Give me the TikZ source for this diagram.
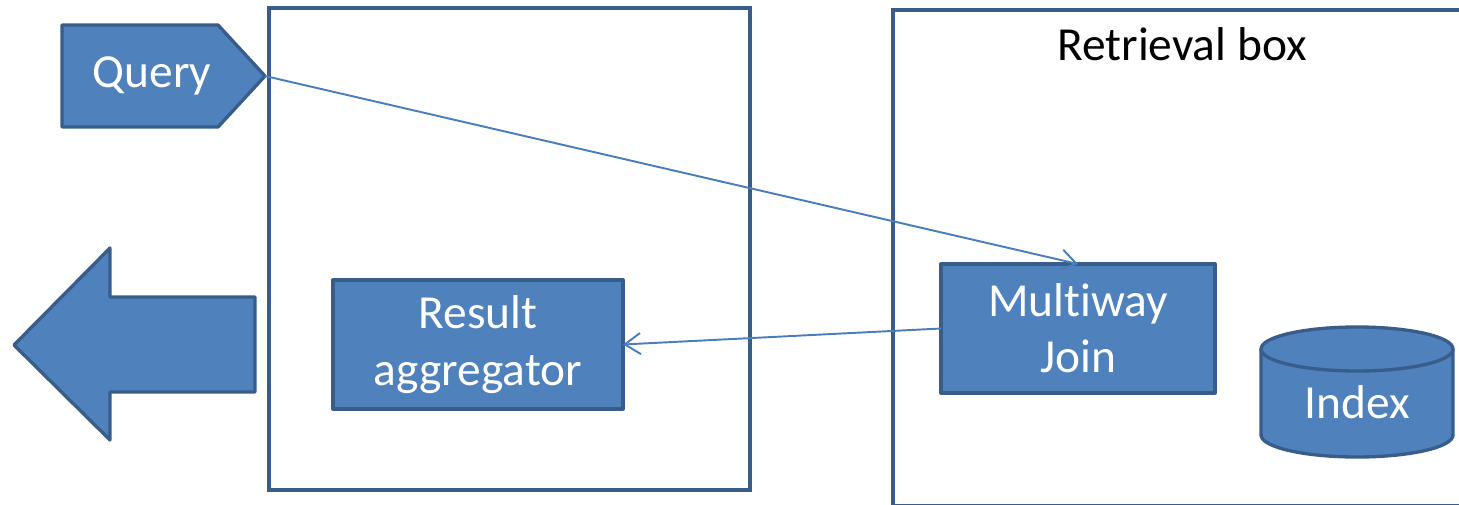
\documentclass[tikz,border=0pt]{standalone}
\usepackage{fontspec}
\setmainfont{Carlito}[Ligatures=NoCommon]
\usetikzlibrary{arrows.meta}
\definecolor{boxfill}{HTML}{4F81BD}
\definecolor{boxline}{HTML}{385D8A}
\definecolor{wire}{HTML}{4A7EBB}
\newcommand{\bigtext}{\fontsize{27}{32}\selectfont}
\tikzset{
  frame/.style={draw=boxline, line width=2pt},
  shapefill/.style={fill=boxfill, draw=boxline, line width=1.9pt, line join=round},
  procbox/.style={shapefill, minimum width=#1, minimum height=2.58cm, outer sep=0pt,
    text=white, align=center, font=\bigtext},
  label/.style={text=white, font=\bigtext, align=center},
  conn/.style={draw=wire, line width=1.1pt, -{Straight Barb[length=9pt,width=12pt,line width=1.1pt]}}
}
\begin{document}
\begin{tikzpicture}[x=0.02cm, y=-0.02cm]
\useasboundingbox (0,0) rectangle (1459,504);
\begin{scope}
\clip (0,0) rectangle (1459,504);
% containers
\draw[frame] (269,8) rectangle (750,490);
\draw[frame] (893,10) rectangle (1475,505.5);
\end{scope}
\node[font=\bigtext] (rbox) at (1182,44) {Retrieval box};

% query tag
\draw[shapefill] (62,25) -- (218,25) -- (265,76) -- (218,127) -- (62,127) -- cycle;
\coordinate (qtip) at (265,76);
\node[label] (query) at (152,76) {Query};

% outgoing result arrow
\draw[shapefill] (14,345) -- (110,248) -- (110,297) -- (255,297) -- (255,392) -- (110,392) -- (110,440) -- cycle;

% processing boxes
\node[procbox=5.8cm] (ra) at (478,344.5) {Result\\aggregator};
\node[procbox=5.48cm] (mj) at (1078,328.5) {Multiway\\Join};

% index store
\fill[boxfill] (1261,349) -- (1261,435) arc[start angle=180, end angle=0, x radius=96, y radius=22] -- (1453,349) -- cycle;
\draw[boxline, line width=1.9pt] (1261,349) -- (1261,435) arc[start angle=180, end angle=0, x radius=96, y radius=22] -- (1453,349);
\draw[shapefill] (1357,349) ellipse[x radius=96, y radius=22];
\node[label] (idx) at (1357,402) {Index};

% connectors
\draw[conn] (qtip) -- (mj.north);
\draw[conn] (mj.west) -- (ra.east);
\end{tikzpicture}
\end{document}
